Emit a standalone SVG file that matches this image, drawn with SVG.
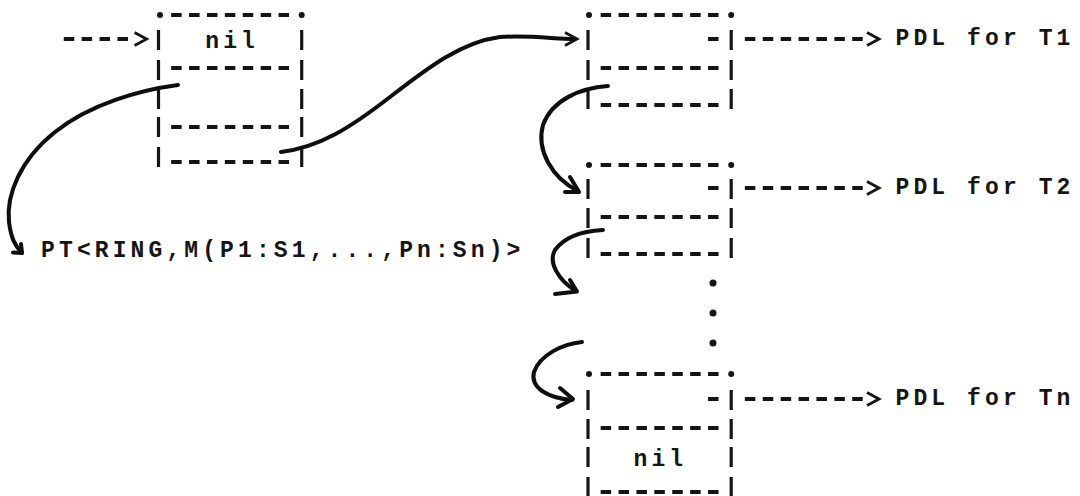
<svg xmlns="http://www.w3.org/2000/svg" width="1080" height="496" viewBox="0 0 1080 496">
  <style>
    .t{font-family:"Liberation Mono","DejaVu Sans Mono",monospace;font-size:23px;letter-spacing:4.1px;fill:#151515;font-weight:bold}
    .row{fill:none;stroke:#151515;stroke-width:4;stroke-dasharray:10.5 7.4}
    .bar{stroke:#151515;stroke-width:3.2}
    .dot{fill:#151515}
    .gt{fill:none;stroke:#151515;stroke-width:2.8}
    .ink{fill:none;stroke:#0e0e0e;stroke-width:4;stroke-linecap:round;stroke-linejoin:round}
  </style>
  <defs>
    <!-- one typed row of seven dashes between the two side bars of a cell -->
    <path id="dash7" class="row" d="M12.65 0H130.55"/>
    <!-- single typed dash and vertical bar -->
    <path id="dash1" class="row" d="M-5.25 0H5.25"/>
    <line id="bar" class="bar" x1="0" y1="-10" x2="0" y2="10"/>
    <!-- typed ">" head -->
    <polyline id="gt" class="gt" points="-6,-6.5 6,0 -6,6.5"/>
  </defs>
  <rect width="1080" height="496" fill="#fff"/>

  <!-- head cell holding nil -->
  <g id="cell-head">
    <circle class="dot" cx="160" cy="15" r="3"/>
    <circle class="dot" cx="301.7" cy="15" r="3"/>
    <use href="#dash7" x="158.5" y="15"/>
    <use href="#bar" x="158.5" y="40"/><use href="#bar" x="301.7" y="40"/>
    <text class="t" x="205.3" y="48">nil</text>
    <use href="#bar" x="158.5" y="70"/><use href="#bar" x="301.7" y="70"/>
    <use href="#dash7" x="158.5" y="68"/>
    <use href="#bar" x="158.5" y="99"/><use href="#bar" x="301.7" y="99"/>
    <use href="#bar" x="158.5" y="127"/><use href="#bar" x="301.7" y="127"/>
    <use href="#dash7" x="158.5" y="127"/>
    <use href="#bar" x="158.5" y="157"/><use href="#bar" x="301.7" y="157"/>
    <use href="#dash7" x="158.5" y="162"/>
  </g>

  <!-- ring cell for T1 -->
  <g id="cell-t1">
    <circle class="dot" cx="589" cy="15" r="3"/>
    <circle class="dot" cx="731.2" cy="15" r="3"/>
    <use href="#dash7" x="588" y="15"/>
    <use href="#bar" x="588" y="40"/><use href="#bar" x="731.2" y="40"/>
    <use href="#dash1" x="713.3" y="39"/>
    <use href="#bar" x="588" y="70"/><use href="#bar" x="731.2" y="70"/>
    <use href="#dash7" x="588" y="68"/>
    <use href="#bar" x="588" y="99"/><use href="#bar" x="731.2" y="99"/>
    <use href="#dash7" x="588" y="105"/>
  </g>

  <!-- ring cell for T2 -->
  <g id="cell-t2">
    <circle class="dot" cx="589" cy="165" r="3"/>
    <circle class="dot" cx="731.2" cy="165" r="3"/>
    <use href="#dash7" x="588" y="165"/>
    <use href="#bar" x="588" y="189"/><use href="#bar" x="731.2" y="189"/>
    <use href="#dash1" x="713.3" y="188"/>
    <use href="#bar" x="588" y="218"/><use href="#bar" x="731.2" y="218"/>
    <use href="#dash7" x="588" y="217"/>
    <use href="#bar" x="588" y="248"/><use href="#bar" x="731.2" y="248"/>
    <use href="#dash7" x="588" y="254"/>
  </g>

  <!-- vertical ellipsis between T2 and Tn -->
  <g id="ellipsis">
    <circle class="dot" cx="713" cy="283" r="3.5"/>
    <circle class="dot" cx="713" cy="313" r="3.5"/>
    <circle class="dot" cx="713" cy="343" r="3.5"/>
  </g>

  <!-- last ring cell for Tn, closed with nil -->
  <g id="cell-tn">
    <circle class="dot" cx="589" cy="374" r="3"/>
    <circle class="dot" cx="731.2" cy="374" r="3"/>
    <use href="#dash7" x="588" y="374"/>
    <use href="#bar" x="588" y="400"/><use href="#bar" x="731.2" y="400"/>
    <use href="#dash1" x="713.3" y="399"/>
    <use href="#bar" x="588" y="429"/><use href="#bar" x="731.2" y="429"/>
    <use href="#dash7" x="588" y="428"/>
    <use href="#bar" x="588" y="457"/><use href="#bar" x="731.2" y="457"/>
    <text class="t" x="633.5" y="466">nil</text>
    <use href="#bar" x="588" y="487"/><use href="#bar" x="731.2" y="487"/>
    <use href="#dash7" x="588" y="492"/>
  </g>

  <!-- text targets -->
  <g id="pt-label"><text class="t" x="41.1" y="257">PT&lt;RING,M(P1:S1,...,Pn:Sn)&gt;</text></g>
  <g id="pdl-t1"><text class="t" x="895.5" y="45">PDL for T1</text></g>
  <g id="pdl-t2"><text class="t" x="895.5" y="194">PDL for T2</text></g>
  <g id="pdl-tn"><text class="t" x="895.5" y="405">PDL for Tn</text></g>

  <g id="connectors">
    <!-- typed dashed arrows -->
    <path class="row" d="M63.75 39H128"/>
    <use href="#gt" x="140.6" y="39"/>
    <path class="row" d="M744.85 39H862.75"/>
    <use href="#gt" x="873" y="39"/>
    <path class="row" d="M744.85 188H862.75"/>
    <use href="#gt" x="873" y="188"/>
    <path class="row" d="M744.85 399H862.75"/>
    <use href="#gt" x="873" y="399"/>

    <!-- hand-drawn links -->
    <path class="ink" d="M178 85C140 90 90 104 55 132C20 160 6 195 9 222C11 238 15 246 22 253"/>
    <path class="ink" d="M13 252.5L22 253L21 244" stroke-width="3"/>

    <path class="ink" d="M281 152C320 147 350 128 390 97C430 66 462 42 500 37C530 35 555 39 574 39"/>
    <use href="#gt" x="571" y="39"/>

    <path class="ink" d="M608 86C580 88 552 100 543 125C536 150 552 178 578 191"/>
    <path class="ink" d="M570 177L579 192L565 192" stroke-width="3.2"/>

    <path class="ink" d="M603 230C585 231 565 236 555 250C548 262 558 280 576 291"/>
    <path class="ink" d="M570 280L577 291.5L555 294" stroke-width="3.2"/>

    <path class="ink" d="M582 342C562 344 540 355 534 372C530 388 548 398 572 400"/>
    <path class="ink" d="M560 388L573 399L558 407" stroke-width="3.2"/>
  </g>
</svg>
